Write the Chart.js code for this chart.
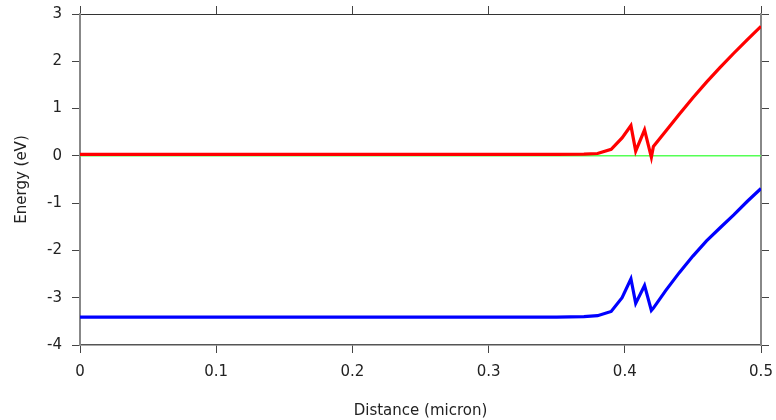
<!DOCTYPE html>
<html>
<head>
<meta charset="utf-8">
<script src="https://cdn.jsdelivr.net/npm/chart.js@4"></script>
<style>
  body { margin: 0; background: #fff; }
  #wrap { width: 776px; height: 420px; }
</style>
</head>
<body>
<div id="wrap"><canvas id="myChart" width="776" height="420"></canvas></div>
<script>
// distance along the device (micron)
const distancia = [0, 0.05, 0.1, 0.15, 0.2, 0.25, 0.3, 0.35, 0.37, 0.38, 0.39, 0.398, 0.4045, 0.408, 0.4145, 0.4195, 0.421, 0.43, 0.44, 0.45, 0.46, 0.47, 0.48, 0.49, 0.5];
// conduction band (eV)
const bandaConduccion = [0.03, 0.03, 0.03, 0.03, 0.03, 0.03, 0.03, 0.03, 0.035, 0.05, 0.14, 0.38, 0.64, 0.1, 0.55, -0.03, 0.2, 0.52, 0.88, 1.23, 1.56, 1.87, 2.17, 2.46, 2.74];
// valence band (eV)
const bandaValencia = [-3.41, -3.41, -3.41, -3.41, -3.41, -3.41, -3.41, -3.41, -3.4, -3.38, -3.29, -3.0, -2.6, -3.12, -2.74, -3.27, -3.22, -2.85, -2.47, -2.12, -1.8, -1.52, -1.25, -0.96, -0.69];
// fermi level
const distanciaFermi = [0, 0.5];
const nivelFermi = [0, 0];

const ticksX = [0, 0.1, 0.2, 0.3, 0.4, 0.5];
const ticksY = [-4, -3, -2, -1, 0, 1, 2, 3];

function puntos(xs, ys) {
    return xs.map((x, i) => ({ x: x, y: ys[i] }));
}

const fuente = { family: "'DejaVu Sans', Verdana, sans-serif", size: 15 };
const colorTexto = '#222';

function sinPadding(s) {
    s.paddingLeft = 0;
    s.paddingRight = 0;
    s.paddingTop = 0;
    s.paddingBottom = 0;
}

function ejeBase(extra) {
    return Object.assign({
        type: 'linear',
        grid: { display: true, drawOnChartArea: false, drawTicks: true, tickLength: 8, color: '#444', lineWidth: 1 },
        border: { display: true, color: '#444', width: 1 }
    }, extra);
}

const ctx = document.getElementById('myChart').getContext('2d');

new Chart(ctx, {
    type: 'line',
    data: {
        datasets: [
            {
                label: 'Ec',
                data: puntos(distancia, bandaConduccion),
                borderColor: '#ff0000',
                borderWidth: 3.2,
                pointRadius: 0,
                tension: 0,
                xAxisID: 'x',
                yAxisID: 'y'
            },
            {
                label: 'Ev',
                data: puntos(distancia, bandaValencia),
                borderColor: '#0000ff',
                borderWidth: 3.2,
                pointRadius: 0,
                tension: 0,
                xAxisID: 'x',
                yAxisID: 'y'
            },
            {
                label: 'Ef',
                data: puntos(distanciaFermi, nivelFermi),
                borderColor: '#55ff55',
                borderWidth: 1.5,
                pointRadius: 0,
                tension: 0,
                xAxisID: 'x',
                yAxisID: 'y'
            }
        ]
    },
    options: {
        responsive: false,
        animation: false,
        layout: { padding: 0 },
        plugins: { legend: { display: false }, tooltip: { enabled: false } },
        scales: {
            x: ejeBase({
                position: 'bottom',
                min: 0, max: 0.5,
                afterBuildTicks: s => { s.ticks = ticksX.map(v => ({ value: v })); },
                afterFit: s => { s.height = 75; sinPadding(s); },
                border: { display: true, color: '#555', width: 1.5 },
                ticks: { font: fuente, color: colorTexto, padding: 10, maxRotation: 0 },
                title: { display: true, text: 'Distance (micron)', font: fuente, color: colorTexto, padding: { top: 5, bottom: 0 } }
            }),
            xTop: ejeBase({
                position: 'top',
                min: 0, max: 0.5,
                afterBuildTicks: s => { s.ticks = ticksX.map(v => ({ value: v })); },
                afterFit: s => { s.height = 14; sinPadding(s); },
                border: { display: true, color: '#333', width: 1 },
                ticks: { display: false }
            }),
            y: ejeBase({
                position: 'left',
                min: -4, max: 3,
                afterBuildTicks: s => { s.ticks = ticksY.map(v => ({ value: v })); },
                afterFit: s => { s.width = 80; sinPadding(s); },
                border: { display: true, color: '#888', width: 2 },
                ticks: { font: fuente, color: colorTexto, padding: 10 },
                title: { display: true, text: 'Energy (eV)', font: fuente, color: colorTexto, padding: { top: 13, bottom: 4 } }
            }),
            yRight: ejeBase({
                position: 'right',
                min: -4, max: 3,
                afterBuildTicks: s => { s.ticks = ticksY.map(v => ({ value: v })); },
                afterFit: s => { s.width = 15; sinPadding(s); },
                border: { display: true, color: '#888', width: 2 },
                ticks: { display: false }
            })
        }
    }
});
</script>
</body>
</html>
